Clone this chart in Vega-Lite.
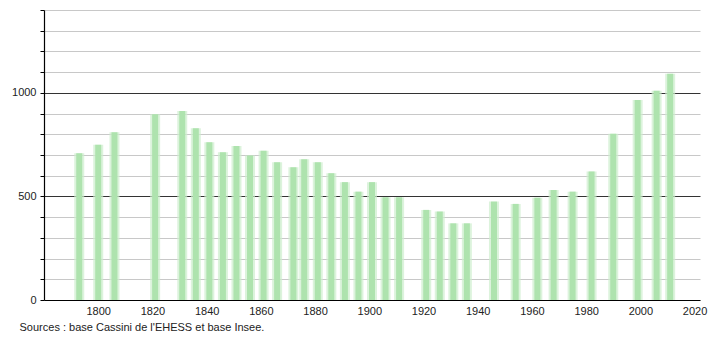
{
  "$schema": "https://vega.github.io/schema/vega-lite/v6.json",
  "width": 656,
  "height": 290,
  "autosize": "none",
  "padding": {"left": 44, "top": 10, "right": 10, "bottom": 40},
  "config": {
    "view": {"stroke": null},
    "font": "Liberation Sans",
    "axis": {"labelFont": "Liberation Sans", "labelFontSize": 11, "labelColor": "#222"}
  },
  "title": {
    "text": "Sources : base Cassini de l'EHESS et base Insee.",
    "orient": "bottom",
    "anchor": "start",
    "fontSize": 11,
    "fontWeight": "normal",
    "color": "#222",
    "offset": 6,
    "dx": 8,
    "font": "Liberation Sans"
  },
  "data": {
    "values": [
      {"year": 1793, "pop": 709},
      {"year": 1800, "pop": 749},
      {"year": 1806, "pop": 810},
      {"year": 1821, "pop": 897},
      {"year": 1831, "pop": 913},
      {"year": 1836, "pop": 829},
      {"year": 1841, "pop": 762},
      {"year": 1846, "pop": 713},
      {"year": 1851, "pop": 744},
      {"year": 1856, "pop": 697},
      {"year": 1861, "pop": 721},
      {"year": 1866, "pop": 665},
      {"year": 1872, "pop": 641},
      {"year": 1876, "pop": 680},
      {"year": 1881, "pop": 665},
      {"year": 1886, "pop": 612},
      {"year": 1891, "pop": 569},
      {"year": 1896, "pop": 523},
      {"year": 1901, "pop": 569},
      {"year": 1906, "pop": 496},
      {"year": 1911, "pop": 496},
      {"year": 1921, "pop": 435},
      {"year": 1926, "pop": 427},
      {"year": 1931, "pop": 370},
      {"year": 1936, "pop": 370},
      {"year": 1946, "pop": 475},
      {"year": 1954, "pop": 464},
      {"year": 1962, "pop": 494},
      {"year": 1968, "pop": 531},
      {"year": 1975, "pop": 523},
      {"year": 1982, "pop": 620},
      {"year": 1990, "pop": 802},
      {"year": 1999, "pop": 966},
      {"year": 2006, "pop": 1010},
      {"year": 2011, "pop": 1092}
    ]
  },
  "encoding": {
    "x": {
      "field": "year",
      "type": "quantitative",
      "scale": {"domain": [1780, 2022], "nice": false, "zero": false, "padding": 0},
      "axis": {
        "title": null,
        "values": [1800, 1820, 1840, 1860, 1880, 1900, 1920, 1940, 1960, 1980, 2000, 2020],
        "format": "d",
        "grid": false,
        "ticks": false,
        "domainColor": "#000",
        "domainWidth": 1.2,
        "labelPadding": 5
      }
    },
    "y": {
      "field": "pop",
      "type": "quantitative",
      "scale": {"domain": [0, 1400], "nice": false, "padding": 0},
      "axis": {
        "title": null,
        "values": [0, 100, 200, 300, 400, 500, 600, 700, 800, 900, 1000, 1100, 1200, 1300, 1400],
        "labelExpr": "datum.value % 500 === 0 ? datum.label : ''",
        "format": "d",
        "grid": true,
        "gridColor": {"condition": {"test": "datum.value % 500 === 0 && datum.value > 0", "value": "#333"}, "value": "#c8c8c8"},
        "gridWidth": 1,
        "tickColor": "#000",
        "tickSize": 4,
        "domainColor": "#000",
        "domainWidth": 1.2,
        "labelPadding": 4
      }
    }
  },
  "layer": [
    {"mark": {"type": "bar", "size": 10, "color": "#cdeecd", "opacity": 0.7}},
    {"mark": {"type": "bar", "size": 6, "color": "#aee3ae"}}
  ]
}
